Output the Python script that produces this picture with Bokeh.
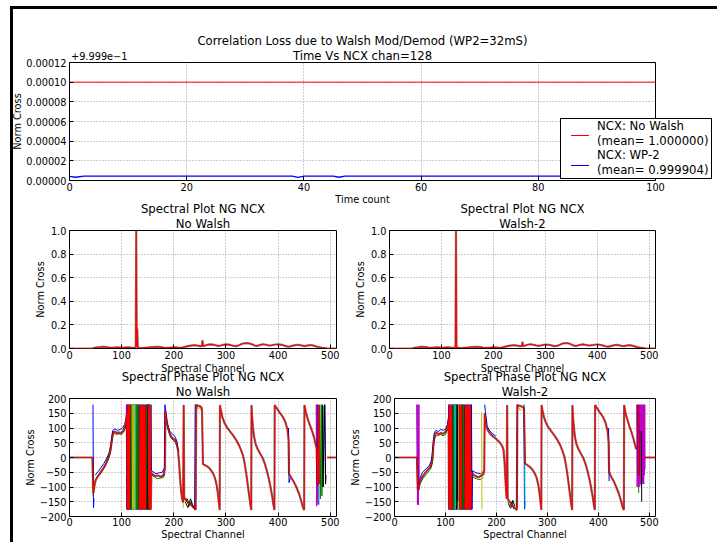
from bokeh.plotting import figure
from bokeh.models import Range1d, FixedTicker, CustomJSTickFormatter, Title, Div
from bokeh.layouts import column, row
from bokeh.embed import file_html
from bokeh.resources import INLINE

NAN = float("nan")

# ---------------------------------------------------------------- data
top_title = ["Correlation Loss due to Walsh Mod/Demod (WP2=32mS)", "Time Vs NCX chan=128"]
top_xticks = [0, 20, 40, 60, 80, 100]
top_offset = 0.9999
top_offset_text = "+9.999e\u22121"
top_yticks_rel = [0.0, 0.00002, 0.00004, 0.00006, 0.00008, 0.00010, 0.00012]
time_nowalsh = [0, 100]
ncx_nowalsh = [1.0, 1.0]
time_wp2 = [0, 1, 2.5, 38, 39, 40, 45, 46, 47, 100]
ncx_wp2 = [0.9999042, 0.9999033, 0.9999044, 0.9999044, 0.9999032, 0.9999044,
           0.9999044, 0.9999033, 0.9999044, 0.9999044]
legend_labels = ["NCX: No Walsh\n(mean= 1.000000)", "NCX: WP-2\n(mean= 0.999904)"]

spec_xticks = [0, 100, 200, 300, 400, 500]
amp_yticks = [0.0, 0.2, 0.4, 0.6, 0.8, 1.0]
phase_yticks = [-200, -150, -100, -50, 0, 50, 100, 150, 200]

amp_nowalsh = [(0, 0), (44, 0), (46, 0.004), (50, 0.007), (55, 0.01), (60, 0.013), (65, 0.015),
               (70, 0.013), (75, 0.009), (80, 0.006), (85, 0.008), (90, 0.01), (95, 0.009),
               (100, 0.006), (105, 0.008), (110, 0.01), (115, 0.009), (120, 0.006), (125, 0.008),
               (127, 0.012), (128, 1.0), (129, 0.012), (130, 0.17), (131, 0.006), (135, 0.005),
               (140, 0.004), (145, 0.006), (150, 0.008), (155, 0.01), (160, 0.012), (165, 0.014),
               (170, 0.015), (175, 0.012), (180, 0.008), (185, 0.005), (190, 0.006), (195, 0.008),
               (200, 0.01), (205, 0.009), (210, 0.006), (215, 0.008), (220, 0.012), (225, 0.018),
               (230, 0.022), (235, 0.026), (240, 0.028), (245, 0.025), (250, 0.02), (254, 0.02),
               (255, 0.07), (256, 0.02), (258, 0.022), (262, 0.028), (266, 0.033), (270, 0.035),
               (275, 0.033), (280, 0.028), (285, 0.022), (290, 0.025), (295, 0.032), (300, 0.035),
               (305, 0.033), (310, 0.028), (315, 0.022), (320, 0.02), (325, 0.028), (330, 0.038),
               (335, 0.044), (340, 0.046), (345, 0.043), (350, 0.035), (355, 0.025), (360, 0.022),
               (365, 0.03), (370, 0.035), (375, 0.034), (380, 0.028), (385, 0.025), (390, 0.03),
               (395, 0.034), (400, 0.035), (405, 0.033), (410, 0.028), (415, 0.02), (420, 0.015),
               (425, 0.02), (430, 0.026), (435, 0.03), (440, 0.03), (445, 0.026), (450, 0.02),
               (455, 0.024), (460, 0.028), (465, 0.028), (470, 0.022), (475, 0.015), (480, 0.01),
               (485, 0.006), (490, 0.004), (495, 0.0), (512, 0.0)]

amp_walsh2 = [(0, 0), (44, 0), (46, 0.004), (50, 0.007), (55, 0.01), (60, 0.014), (65, 0.015),
              (70, 0.012), (75, 0.008), (80, 0.006), (85, 0.008), (90, 0.01), (95, 0.009),
              (100, 0.006), (105, 0.008), (110, 0.01), (115, 0.009), (120, 0.006), (125, 0.008),
              (127, 0.012), (128, 1.0), (129, 0.012), (131, 0.006), (135, 0.005),
              (140, 0.004), (145, 0.006), (150, 0.008), (155, 0.01), (160, 0.012), (165, 0.014),
              (170, 0.015), (175, 0.012), (180, 0.008), (185, 0.005), (190, 0.006), (195, 0.008),
              (200, 0.01), (205, 0.009), (210, 0.006), (215, 0.008), (220, 0.012), (225, 0.018),
              (230, 0.022), (235, 0.026), (240, 0.028), (245, 0.025), (250, 0.02), (255, 0.02),
              (256, 0.056), (257, 0.02), (260, 0.024), (264, 0.03), (268, 0.034), (272, 0.035),
              (277, 0.032), (282, 0.026), (287, 0.022), (292, 0.026), (297, 0.032), (302, 0.034),
              (307, 0.032), (312, 0.026), (317, 0.02), (322, 0.022), (327, 0.03), (332, 0.04),
              (337, 0.045), (342, 0.045), (347, 0.04), (352, 0.03), (357, 0.022), (362, 0.025),
              (367, 0.032), (372, 0.035), (377, 0.032), (382, 0.026), (387, 0.026), (392, 0.03),
              (397, 0.034), (402, 0.034), (407, 0.03), (412, 0.024), (417, 0.017), (422, 0.016),
              (427, 0.022), (432, 0.028), (437, 0.03), (442, 0.028), (447, 0.022), (452, 0.02),
              (457, 0.026), (462, 0.028), (467, 0.025), (472, 0.018), (477, 0.012), (482, 0.008),
              (487, 0.005), (492, 0.002), (496, 0.0), (512, 0.0)]

# ---- spectral phase, No Walsh (one list per colour, NaN pairs break a line)
ph_nw_red = [(0, 0), (44, 0), (46, -120), (48, -95), (50, -78), (53, -68), (57, -57), (61, -46),
             (65, -36), (69, -24), (72, -12), (75, 3), (78, 22), (80, 42), (82, 68), (84, 85),
             (87, 88), (91, 83), (95, 85), (99, 83), (103, 90), (106, 102), (108, 118), (110, 148),
             (111, -176), (112, 177), (113, -176), (114, 178), (115, -175), (116, 178), (NAN, NAN),
             (134, -176), (135, 178), (136, -176), (137, 177), (138, -176), (139, 178), (140, -176),
             (141, 177), (142, -176), (143, 178), (144, -176), (145, 178), (146, -176), (NAN, NAN),
             (151, 178), (152, -176), (153, 177), (154, -176), (155, 178), (156, -176), (157, -52),
             (160, -58), (165, -63), (170, -61), (175, -65), (180, -60), (182, -46), (183, -40),
             (184, 158), (186, 125), (189, 102), (192, 82), (196, 68), (200, 62), (203, 58),
             (206, 42), (208, 25), (210, -15), (212, -70), (214, -115), (216, -140), (218, -152),
             (219, 178), (220, -138), (224, -142), (228, -155), (232, -160), (236, -165),
             (240, -172), (242, -178), (243, 178), (246, 176), (250, 174), (253, 170), (254, 165),
             (256, -22), (260, -26), (264, -30), (268, -36), (272, -45), (276, -57), (279, -70),
             (282, -92), (284, -115), (286, -145), (288, -178), (288.5, 178), (290, 162),
             (293, 138), (297, 118), (302, 102), (308, 88), (314, 74), (320, 58), (325, 42),
             (329, 25), (333, 5), (336, -22), (339, -55), (342, -95), (345, -135), (347, -162),
             (348.5, -178), (349, 178), (350, 140), (352, 100), (354, 70), (357, 45), (361, 28),
             (366, 12), (370, 0), (374, -18), (378, -42), (382, -70), (386, -105), (389, -135),
             (391, -160), (393, -178), (393.5, 178), (397, 168), (403, 152), (409, 138),
             (414, 120), (418, 95), (420, 60), (421, -55), (425, -68), (430, -82), (435, -100),
             (440, -122), (444, -145), (447, -165), (450, -178), (450.5, 178), (453, 155),
             (457, 130), (461, 110), (465, 90), (469, 68), (472, 45), (474, 30), (476, -95),
             (478, 178), (479, -90), (NAN, NAN), (494, 0), (512, 0)]
ph_nw_blue = [(45, 179), (46, -170), (47, -140), (NAN, NAN), (49, -60), (55, -48), (60, -35),
              (66, -20), (72, 0), (76, 15), (79, 40), (81, 70), (83, 92), (87, 97), (92, 92),
              (97, 95), (102, 100), (106, 112), (109, 135),
              (110, 179), (111, -176), (112, 179), (113, -176), (114, 179), (115, -176), (116, 179),
              (117, -176), (118, 179), (119, -176), (120, 179), (121, -176), (122, 179), (123, -176),
              (124, 179), (125, -176), (126, 179), (127, -176), (128, 179), (129, -176), (130, 179),
              (131, -176), (132, 179), (133, -176), (134, 179), (135, -176), (136, 179), (137, -176),
              (138, 179), (139, -176), (140, 179), (141, -176), (142, 179), (143, -176), (144, 179),
              (145, -176), (146, 179), (147, -176), (148, 179), (149, -176), (150, 179), (151, -176),
              (152, 179), (153, -176), (154, 179), (155, -176), (156, 179), (157, -45),
              (160, -48), (166, -55), (172, -52), (178, -50), (182, -35), (183, 179), (185, 150),
              (188, 112), (192, 90), (197, 80), (202, 72), (206, 55), (209, 20), (NAN, NAN),
              (240, -170), (241, 179), (243, 176), (245, 175), (NAN, NAN),
              (420, 100), (421, -85), (423, -70), (NAN, NAN),
              (474, 179), (475, -150), (477, 179), (478, -160), (NAN, NAN), (490, 179), (491, -90)]
ph_nw_green = [(50, -72), (56, -62), (62, -48), (68, -30), (72, -15), (76, 0), (79, 20), (81, 50),
               (83, 75), (86, 82), (90, 78), (95, 80), (100, 78), (104, 88), (107, 100), (109, 118),
               (NAN, NAN), (115, 179), (116, -176), (117, 179), (118, -176), (119, 179), (120, -176),
               (121, 179), (NAN, NAN), (127, 179), (128, -176), (129, 179), (130, -176), (131, 179),
               (132, -176), (133, 179), (NAN, NAN), (147, -176), (148, 179), (149, -176), (150, 179),
               (NAN, NAN), (158, -58), (162, -65), (168, -72), (174, -70), (180, -68), (183, -55),
               (NAN, NAN), (185, 130), (189, 95), (194, 68), (199, 58), (204, 50), (208, 28),
               (NAN, NAN), (220, -135), (224, -150), (226, -140), (230, -165), (233, -150),
               (237, -172), (240, -168), (NAN, NAN), (480, 179), (481, -140), (483, 179),
               (484, -130), (486, 175), (487, -100)]
ph_nw_cyan = [(124, -176), (125, 179), (126, -176), (127, 179), (NAN, NAN),
              (476, 179), (477, -150), (478, 170)]
ph_nw_magenta = [(109, 179), (110, -176), (111, 179), (112, -176), (113, 179), (114, -176),
                 (NAN, NAN), (473, 179), (474, -165), (475, 179), (476, -160)]
ph_nw_yellow = [(43.5, 0), (44, -130), (NAN, NAN), (120, 179), (121, -176), (122, 179),
                (123, -176), (124, 179), (125, -176), (NAN, NAN), (218, -170), (218.5, 179),
                (NAN, NAN), (244, 179), (246, 165), (250, 170), (252, 160)]
ph_nw_black = [(150, -176), (151, 179), (152, -176), (153, 179), (NAN, NAN),
               (222, -150), (227, -170), (232, -140), (236, -160), (241, -178), (NAN, NAN),
               (485, 179), (486, -100), (489, 179), (491, -90), (492, -60)]

# ---- spectral phase, Walsh-2
ph_w2_red = [(0, 0), (44, 0), (46, -110), (48, -100), (50, -82), (53, -70), (57, -60), (61, -50),
             (65, -42), (69, -35), (72, -25), (74, -8), (76, 35), (78, 66), (80, 80), (83, 84),
             (87, 78), (91, 84), (95, 80), (99, 85), (102, 94), (104, 104), (106, 125),
             (107, -176), (108, 177), (109, -176), (110, 178), (111, -176), (112, 177), (113, -176),
             (NAN, NAN), (128, 177), (129, -176), (130, 178), (131, -176), (132, 176), (NAN, NAN),
             (138, -176), (139, 178), (140, -176), (141, 177), (142, -176), (143, 176), (144, -176),
             (145, 178), (146, -176), (147, 177), (148, -176), (149, 176), (150, -176), (151, -50),
             (155, -58), (160, -64), (165, -67), (170, -62), (174, -58), (176, -45), (177, 150),
             (179, 110), (183, 92), (188, 80), (194, 70), (200, 62), (206, 52), (211, 40),
             (214, 25), (216, -20), (218, -90), (220, -140), (221, 178), (222, -140), (226, -150),
             (230, -162), (234, -168), (238, -175), (240, -178), (241, 178), (244, 176), (248, 174),
             (252, 170), (254, 168), (256, -20), (260, -25), (264, -30), (268, -36), (272, -45),
             (276, -57), (279, -70), (282, -92), (284, -115), (286, -145), (288, -178),
             (288.5, 178), (290, 162), (293, 138), (297, 118), (302, 102), (308, 88), (314, 74),
             (320, 58), (325, 42), (329, 25), (333, 5), (336, -22), (339, -55), (342, -95),
             (345, -135), (347, -162), (348.5, -178), (349, 178), (350, 140), (352, 100),
             (354, 70), (357, 45), (361, 28), (366, 12), (370, 0), (374, -18), (378, -42),
             (382, -70), (386, -105), (389, -135), (391, -160), (393, -178), (393.5, 178),
             (397, 168), (403, 152), (409, 138), (414, 118), (418, 90), (420, 50), (421, -50),
             (425, -65), (430, -80), (435, -100), (440, -122), (444, -145), (447, -165),
             (450, -178), (450.5, 178), (453, 152), (457, 128), (461, 105), (465, 85), (469, 62),
             (472, 42), (474, 28), (NAN, NAN), (478, 178), (479, -60), (NAN, NAN), (491, 0),
             (512, 0)]
ph_w2_blue = [(44, 179), (45, -90), (NAN, NAN), (49, -75), (55, -50), (62, -38), (68, -28),
              (72, -12), (74, 10), (76, 55), (78, 82), (81, 92), (86, 88), (91, 95), (96, 92),
              (100, 96), (104, 112), (106, 140),
              (107, 179), (108, -176), (109, 179), (110, -176), (111, 179), (112, -176), (113, 179),
              (114, -176), (115, 179), (116, -176), (117, 179), (118, -176), (119, 179), (120, -176),
              (121, 179), (122, -176), (123, 179), (124, -176), (125, 179), (126, -176), (127, 179),
              (128, -176), (129, 179), (130, -176), (131, 179), (132, -176), (133, 179), (134, -176),
              (135, 179), (136, -176), (137, 179), (138, -176), (139, 179), (140, -176), (141, 179),
              (142, -176), (143, 179), (144, -176), (145, 179), (146, -176), (147, 179), (148, -176),
              (149, 179), (150, -176), (151, 179), (152, -176), (153, -45), (160, -52), (168, -55),
              (174, -48), (NAN, NAN), (177, 179), (178, 160), (182, 105), (187, 90), (193, 80),
              (199, 72), (NAN, NAN), (240, -170), (241, 179), (243, 176), (NAN, NAN),
              (254, 179), (255, -175), (256, -150), (NAN, NAN), (420, 100), (421, -80),
              (NAN, NAN), (488, 179), (489, -90)]
ph_w2_green = [(50, -90), (56, -70), (62, -58), (68, -45), (72, -35), (75, -10), (77, 50),
               (80, 72), (85, 75), (90, 78), (95, 74), (100, 78), (104, 95), (NAN, NAN),
               (113, 179), (114, -176), (115, 179), (116, -176), (117, 179), (118, -176),
               (119, 179), (120, -176), (121, 179), (NAN, NAN), (133, -176), (134, 179),
               (135, -176), (136, 179), (137, -176), (NAN, NAN), (153, -65), (160, -72),
               (168, -75), (174, -68), (NAN, NAN), (222, -150), (226, -165), (230, -150),
               (234, -175), (NAN, NAN), (478, 179), (479, -120)]
ph_w2_cyan = [(118, 179), (119, -176), (120, 179), (NAN, NAN), (255, 179), (256, -170)]
ph_w2_magenta = [(44, 179), (45, -160), (46, 179), (47, -160), (48, 179), (48.5, -110),
                 (NAN, NAN), (106, 179), (107, -176), (108, 179), (109, -176), (NAN, NAN),
                 (475, 179), (476, -100), (477, 179), (478, -95), (479, 179), (480, -100),
                 (481, 179), (482, -90), (483, 179), (484, -95), (485, 179), (486, -90),
                 (487, 179), (488, -80), (489, 179), (490, -60), (491, 179), (491.5, -40)]
ph_w2_yellow = [(124, 179), (125, -176), (126, 179), (127, -176), (NAN, NAN),
                (171, 155), (171.5, -176), (NAN, NAN), (242, 179), (246, 160), (250, 165)]
ph_w2_black = [(122, -176), (123, 179), (124, -150), (NAN, NAN), (224, -160), (228, -172),
               (232, -145), (236, -165), (NAN, NAN), (484, 90), (485, -150)]

# ---------------------------------------------------------------- style
FONT = "DejaVu Sans"
TICK_FS = "9.75px"
TITLE_FS = "11.7px"
W, H = 717, 542
MPL = {"b": "#0000ff", "g": "#008000", "r": "#ff0000", "c": "#00bfbf",
       "m": "#bf00bf", "y": "#bfbf00", "k": "#000000"}


def xy(pairs):
    return [a for a, _ in pairs], [b for _, b in pairs]


def style_axis(ax, ticker, code, label, tick_standoff, label_standoff):
    ax.ticker = ticker
    ax.formatter = CustomJSTickFormatter(code=code)
    ax.axis_label = label
    ax.axis_line_color = None
    ax.major_tick_in = 4
    ax.major_tick_out = 0
    ax.minor_tick_in = 0
    ax.minor_tick_out = 0
    ax.major_tick_line_color = "black"
    ax.major_label_text_font = FONT
    ax.major_label_text_font_size = TICK_FS
    ax.major_label_text_color = "black"
    ax.major_label_standoff = tick_standoff
    ax.axis_label_text_font = FONT
    ax.axis_label_text_font_size = TICK_FS
    ax.axis_label_text_font_style = "normal"
    ax.axis_label_text_color = "black"
    ax.axis_label_standoff = label_standoff


def style_title(t, standoff):
    t.align = "center"
    t.text_font = FONT
    t.text_font_size = TITLE_FS
    t.text_font_style = "normal"
    t.text_color = "black"
    t.standoff = standoff


def make_fig(width, height, bl, br, bt, bb, xr, yr, xticks, yticks, xcode, ycode,
             xlabel, ylabel, titles, ylab_standoff, xtick_standoff, xlab_standoff):
    p = figure(width=width, height=height, x_range=xr, y_range=yr, output_backend="svg",
               toolbar_location=None, min_border_left=bl, min_border_right=br,
               min_border_top=bt, min_border_bottom=bb)
    p.background_fill_color = None
    p.border_fill_color = None
    p.outline_line_color = "black"
    p.outline_line_width = 1
    xt = FixedTicker(ticks=xticks, minor_ticks=[])
    yt = FixedTicker(ticks=yticks, minor_ticks=[])
    style_axis(p.xaxis[0], xt, xcode, xlabel, xtick_standoff, xlab_standoff)
    style_axis(p.yaxis[0], yt, ycode, ylabel, 3, ylab_standoff)
    p.xgrid.ticker = xt
    p.ygrid.ticker = yt
    for g in (p.xgrid[0], p.ygrid[0]):
        g.grid_line_color = "#808080"
        g.grid_line_dash = "1 2"
        g.grid_line_width = 0.8
    # first line of the title = the plot's title, second line = extra Title
    p.title.text = titles[0]
    style_title(p.title, -2)
    sub = Title(text=titles[1])
    style_title(sub, 0)
    p.add_layout(sub, "above")
    return p


INT_CODE = "return tick.toFixed(0);"
ONE_CODE = "return tick.toFixed(1);"
SIGN_CODE = "return tick < 0 ? '\\u2212' + (-tick).toFixed(0) : tick.toFixed(0);"
TOP_CODE = "return (tick - %r).toFixed(5);" % top_offset

# ---------------------------------------------------------------- top panel
top_y0 = top_offset + top_yticks_rel[0]
top_y1 = top_offset + top_yticks_rel[-1]
f_top = make_fig(W, 207, 69, 62, 62, 25, Range1d(top_xticks[0], top_xticks[-1]),
                 Range1d(top_y0, top_y1), top_xticks,
                 [top_offset + v for v in top_yticks_rel], INT_CODE, TOP_CODE,
                 "Time count", "Norm Cross", top_title, 0, 2, 0)
f_top.margin = (-H, 0, 0, 0)
f_top.line(time_nowalsh, ncx_nowalsh, line_color=MPL["r"], line_width=1)
f_top.line(time_wp2, ncx_wp2, line_color=MPL["b"], line_width=1.3)

# ---------------------------------------------------------------- spectra (middle row)
amp_figs = []
amp_specs = [(["Spectral Plot NG NCX", "No Walsh"], amp_nowalsh, 346, 69, 10),
             (["Spectral Plot NG NCX", "Walsh-2"], amp_walsh2, 371, 43, 62)]
for titles, data, width, bl, br in amp_specs:
    p = make_fig(width, 178, bl, br, 32, 26, Range1d(0, 512),
                 Range1d(amp_yticks[0], amp_yticks[-1]), spec_xticks, amp_yticks,
                 INT_CODE, ONE_CODE, "Spectral Channel", "Norm Cross", titles, 2, 2, 1)
    xs, ys = xy(data)
    p.line(xs, ys, line_color="black", line_alpha=0.5, line_width=2.2)
    p.line(xs, ys, line_color=MPL["r"], line_width=1.1)
    amp_figs.append(p)

# ---------------------------------------------------------------- phases (bottom row)
phase_figs = []
phase_specs = [
    (["Spectral Phase Plot NG NCX", "No Walsh"], 346, 69, 10,
     [("b", ph_nw_blue), ("g", ph_nw_green), ("c", ph_nw_cyan), ("m", ph_nw_magenta),
      ("y", ph_nw_yellow), ("k", ph_nw_black)], ph_nw_red),
    (["Spectral Phase Plot NG NCX", "Walsh-2"], 371, 43, 62,
     [("b", ph_w2_blue), ("g", ph_w2_green), ("c", ph_w2_cyan), ("m", ph_w2_magenta),
      ("y", ph_w2_yellow), ("k", ph_w2_black)], ph_w2_red),
]
for titles, width, bl, br, series, red in phase_specs:
    p = make_fig(width, 177, bl, br, 33, 24, Range1d(0, 512),
                 Range1d(phase_yticks[0], phase_yticks[-1]), spec_xticks, phase_yticks,
                 INT_CODE, SIGN_CODE, "Spectral Channel", "Norm Cross", titles, 1, 1, 0)
    for key, data in series:
        xs, ys = xy(data)
        p.line(xs, ys, line_color=MPL[key], line_width=1)
    xs, ys = xy(red)
    p.line(xs, ys, line_color="black", line_alpha=0.55, line_width=2.2)
    p.line(xs, ys, line_color=MPL["r"], line_width=1.1)
    phase_figs.append(p)

# ---------------------------------------------------------------- window frame (under the plots)
bars = Div(width=W, height=H, margin=(0, 0, 0, 0), text=(
    '<div style="position:relative;width:%dpx;height:%dpx;">'
    '<div style="position:absolute;left:10px;top:6px;width:%dpx;height:3px;background:#000;"></div>'
    '<div style="position:absolute;left:10px;top:6px;width:3px;height:%dpx;background:#000;"></div>'
    '</div>' % (W, H, W - 10, H - 6)))

# ---------------------------------------------------------------- legend + offset text (over the plots)
leg_html = (
    '<div style="position:absolute;left:560px;top:118px;width:152px;height:61px;'
    'border:1px solid #000;background:#fff;font-size:11.7px;line-height:14.6px;">'
    '<div style="position:absolute;left:10px;top:16px;width:18px;height:1px;background:%s;"></div>'
    '<div style="position:absolute;left:36px;top:0px;white-space:nowrap;">%s</div>'
    '<div style="position:absolute;left:10px;top:46px;width:18px;height:1px;background:%s;"></div>'
    '<div style="position:absolute;left:36px;top:29px;white-space:nowrap;">%s</div>'
    '</div>' % (MPL["r"], legend_labels[0].replace("\n", "<br>"),
                MPL["b"], legend_labels[1].replace("\n", "<br>")))
overlay = Div(width=W, height=H, margin=(-H, 0, 0, 0), text=(
    '<div style="position:relative;width:%dpx;height:%dpx;font-family:DejaVu Sans;color:#000;">'
    '<div style="position:absolute;left:71px;top:51px;font-size:9.75px;line-height:12px;'
    'white-space:nowrap;">%s</div>%s</div>' % (W, H, top_offset_text, leg_html)))

mid_row = row(amp_figs, spacing=0, margin=(-9, 0, 0, 0))
bot_row = row(phase_figs, spacing=0, margin=(-11, 0, 0, 0))
layout = column([bars, f_top, mid_row, bot_row, overlay], spacing=0)
open("out.html", "w", encoding="utf-8").write(file_html(layout, INLINE))
